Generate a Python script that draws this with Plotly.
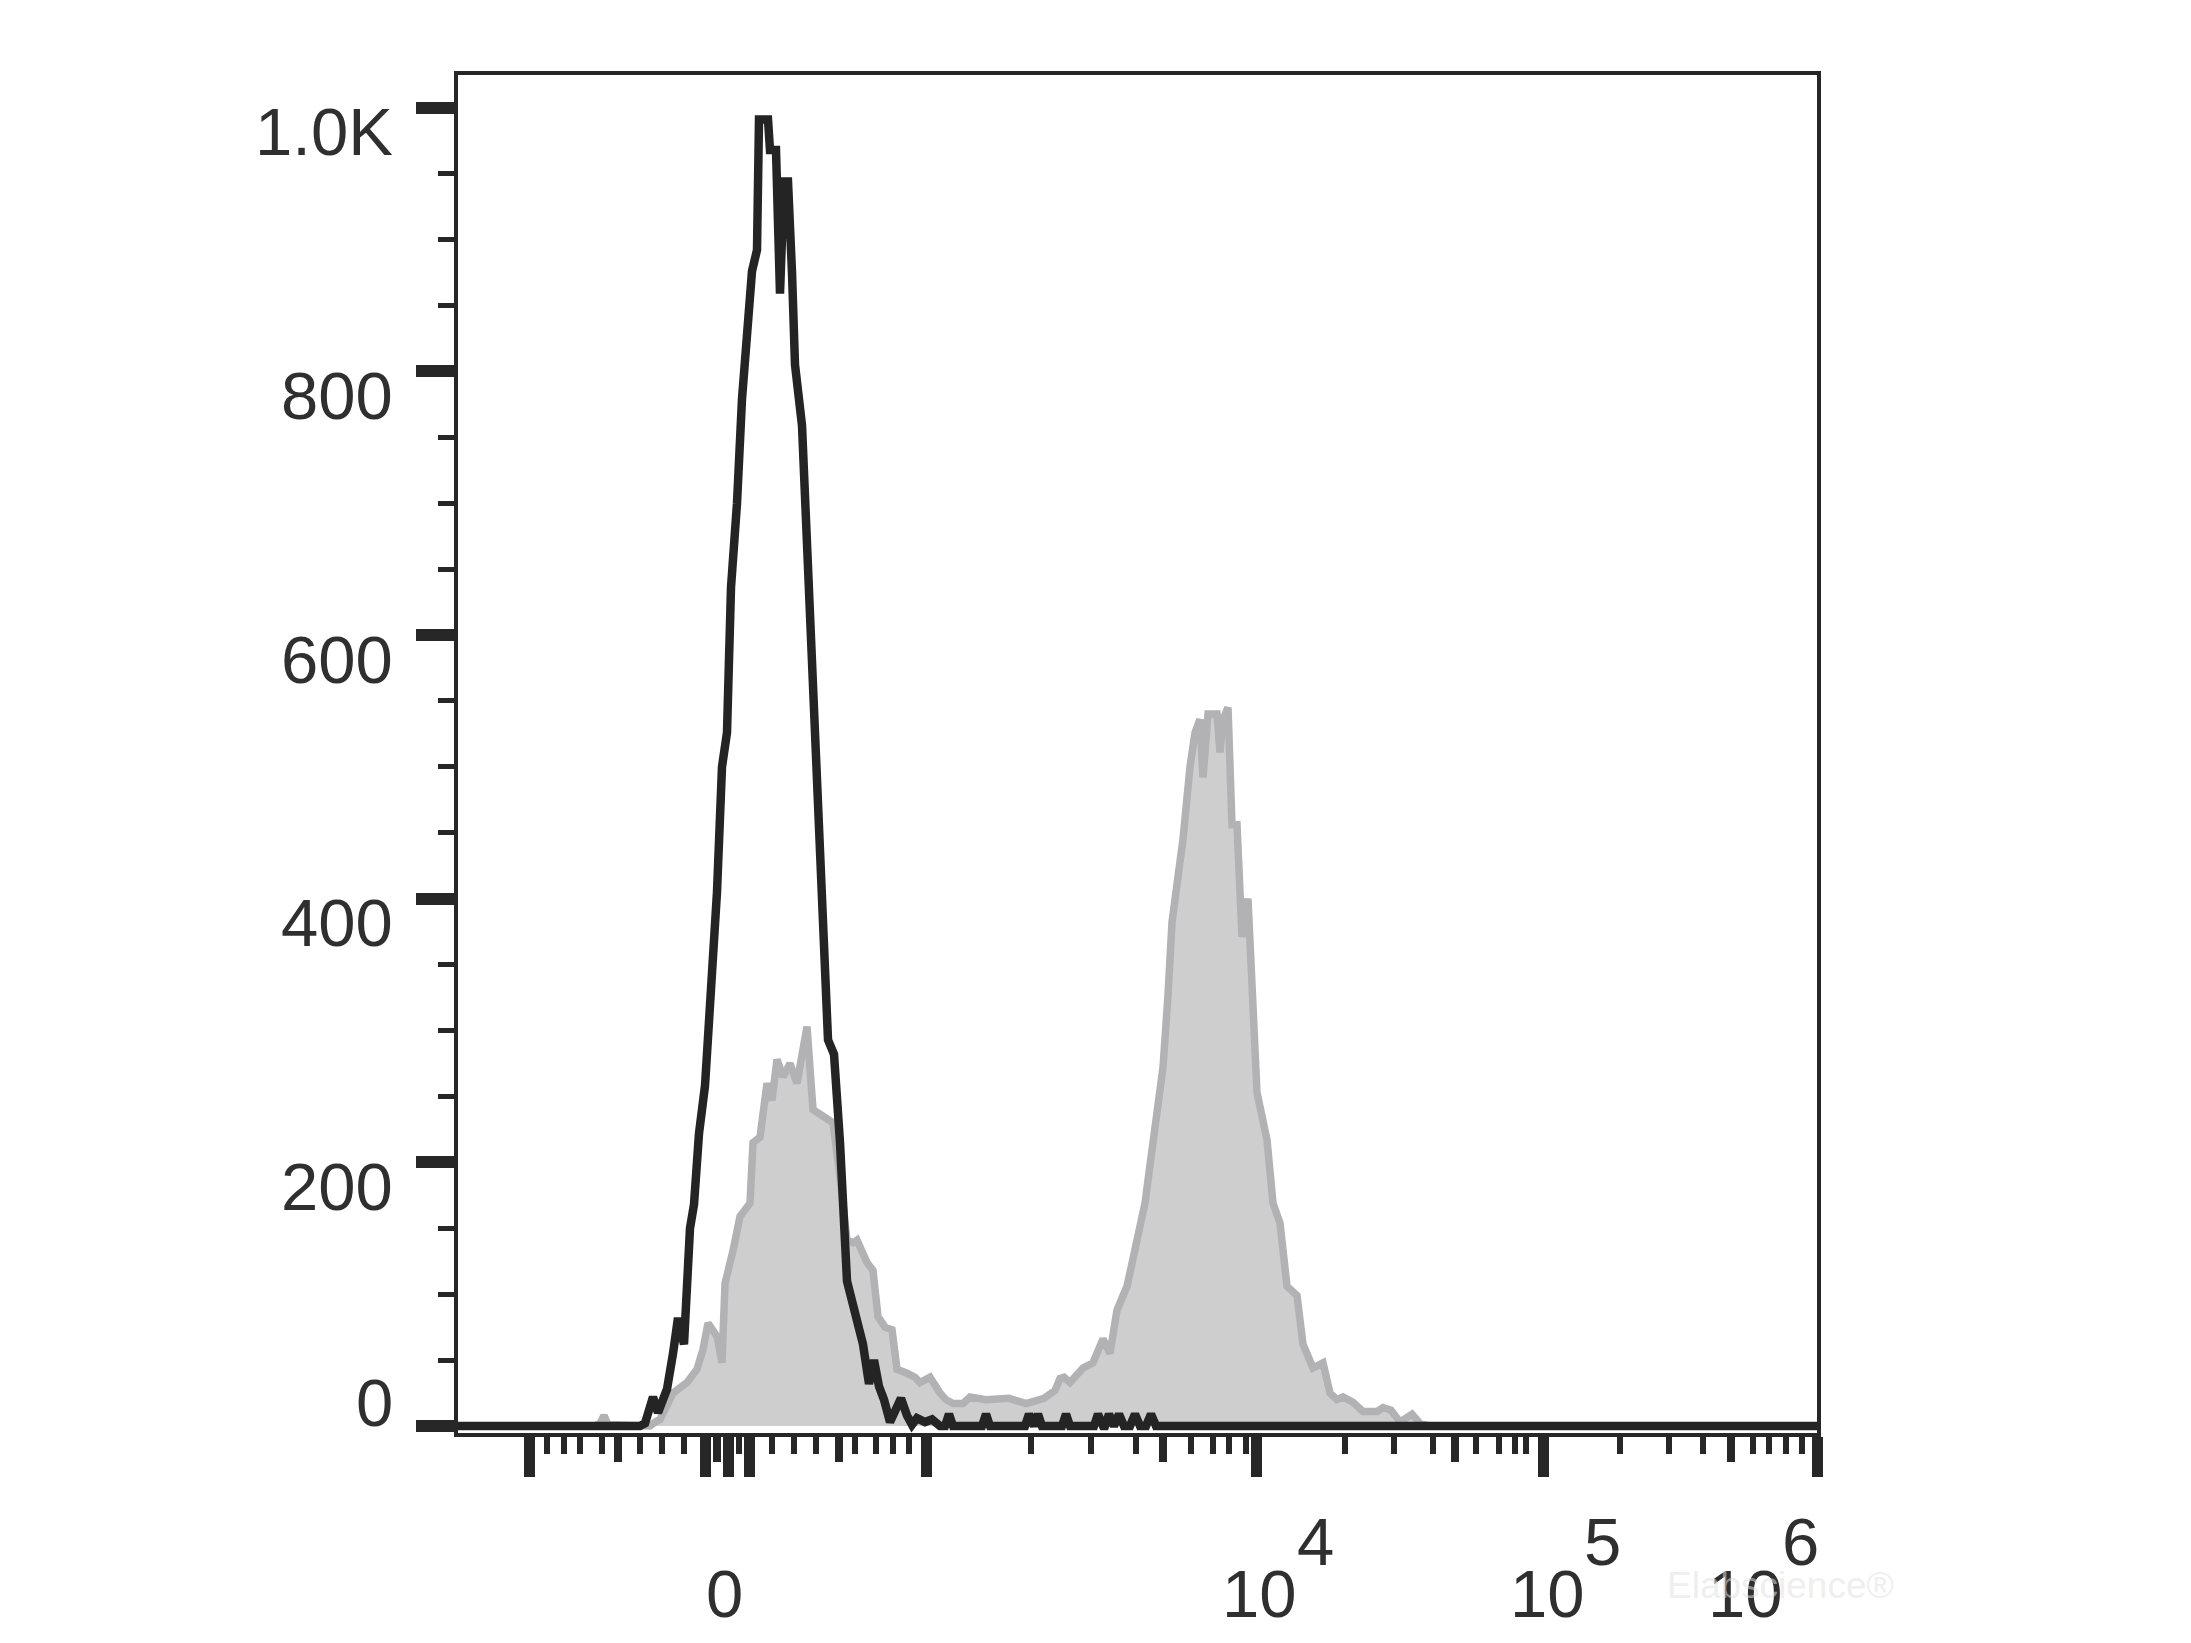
import plotly.graph_objects as go

# ---------------- data (x in display channels, y in counts) ----------------
black_x = [0, 182, 187, 192, 195, 200, 205, 209, 215, 220, 226, 232, 236, 241, 247, 254, 259,
           264, 269, 273, 279, 284, 289, 294, 299, 301, 310, 312, 318, 322, 326, 330, 334, 337,
           344, 349, 355, 362, 367, 370, 376, 382, 389, 395, 400, 405, 411, 416, 421, 426, 432,
           437, 443, 449, 454, 459, 467, 474, 482, 487, 491, 495, 524, 528, 532, 567, 571, 576,
           580, 584, 604, 608, 612, 636, 640, 645, 647, 651, 656, 661, 666, 672, 677, 682, 688,
           693, 698, 1359]
black_y = [0, 0, 2, 12, 22, 10, 18, 28, 55, 82, 62, 150, 168, 222, 258, 331, 405,
           500, 526, 636, 700, 779, 831, 876, 892, 991, 991, 968, 968, 859, 944, 944, 875, 805,
           759, 669, 539, 435, 357, 293, 282, 215, 110, 90, 76, 62, 32, 50, 30, 20, 3,
           10, 21, 8, 1, 6, 3, 5, 0, 0, 9, 0, 0, 9, 0, 0, 9, 0,
           9, 0, 0, 9, 0, 0, 9, 0, 0, 9, 0, 9, 0, 0, 9, 0, 0,
           9, 0, 0]

gray_x = [0, 137, 142, 146, 150, 192, 197, 202, 215, 229, 239, 245, 250, 259, 264, 267, 275,
          282, 292, 295, 302, 309, 314, 319, 325, 332, 339, 349, 355, 369, 375, 382, 389, 395,
          399, 409, 415, 420, 427, 434, 439, 449, 457, 462, 472, 482, 488, 495, 505, 512, 528,
          551, 568, 586, 592, 597, 602, 606, 612, 625, 635, 645, 652, 659, 669, 679, 687, 692,
          699, 705, 710, 714, 719, 725, 732, 737, 742, 745, 750, 759, 762, 765, 770, 774, 779,
          784, 790, 792, 795, 799, 809, 815, 822, 829, 839, 845, 855, 865, 872, 879, 885, 893,
          895, 905, 915, 919, 925, 933, 942, 954, 962, 972, 1359]
gray_y = [0, 0, 2, 8, 1, 0, 3, 5, 25, 33, 43, 58, 78, 68, 48, 108, 133,
          159, 169, 215, 219, 260, 247, 278, 265, 275, 260, 303, 240, 234, 230, 189, 141, 139,
          141, 124, 118, 83, 75, 73, 43, 40, 37, 33, 37, 25, 20, 17, 17, 22, 20,
          21, 17, 21, 24, 27, 36, 37, 33, 44, 48, 66, 55, 88, 106, 143, 169, 198,
          235, 272, 327, 382, 411, 445, 500, 526, 536, 492, 540, 540, 511, 536, 545, 456, 456,
          371, 400, 360, 309, 253, 217, 169, 154, 106, 99, 62, 44, 48, 25, 20, 22, 20,
          18, 11, 12, 11, 14, 12, 3, 9, 2, 0, 0]

# ---------------- axes ----------------
x_major = [71.6, 247.7, 270, 291, 468.4, 798.8, 1085.3, 1359]
x_medium = [159.9, 259, 380.6, 705.2, 997, 1272.7]
x_minor = [89.1, 105.6, 122, 144, 182.4, 204, 226.3, 281, 313.8, 336.3, 358.4, 397, 418.4,
           435.2, 451.3, 572.7, 633.4, 677.7, 732.7, 754.9, 771.3, 787.7, 887, 936.3, 974.9,
           1018.4, 1040.9, 1057, 1068.4, 1162, 1211.3, 1244.7, 1294.7, 1311.3, 1328, 1343.7]

x_label_at = [270, 798.8, 1085.3, 1359]
x_label_base = ["0", "10", "10", "10"]
x_label_exp = ["", "4", "5", "6"]
x_label_dx = [-4, 3, 4, -72]

y_major = [0, 200, 400, 600, 800, 1000]
y_labels = ["0", "200", "400", "600", "800", "1.0K"]
y_label_dy = [24, -24, -24, -24, -24, -24]
y_minor = [v for v in range(50, 1001, 50) if v % 200]

X_RANGE = [0, 1359]
Y_RANGE = [-5.3, 1024.8]

INK = "#272727"
TXT = "#2f2f2f"
FONT = "Liberation Sans, Arial, sans-serif"
FS = 67

fig = go.Figure()
fig.add_trace(go.Scatter(x=gray_x, y=gray_y, mode="lines", fill="tozeroy",
                         fillcolor="#cecece", line=dict(color="#b2b2b4", width=7.5),
                         showlegend=False, hoverinfo="skip"))
fig.add_trace(go.Scatter(x=black_x, y=black_y, mode="lines",
                         line=dict(color="#242424", width=8.5),
                         showlegend=False, hoverinfo="skip"))
# carrier for the medium-tick overlay axis
fig.add_trace(go.Scatter(x=[None], y=[None], xaxis="x2", yaxis="y", mode="lines",
                         showlegend=False, hoverinfo="skip"))

annotations = []
for v, t, dy in zip(y_major, y_labels, y_label_dy):
    annotations.append(dict(x=0, xref="paper", y=v, yref="y", text=t, showarrow=False,
                            xanchor="right", yanchor="middle", xshift=-63, yshift=dy,
                            font=dict(size=FS, family=FONT, color=TXT)))
for pos, base, ex, dx in zip(x_label_at, x_label_base, x_label_exp, x_label_dx):
    annotations.append(dict(x=pos, xref="x", y=0, yref="paper", text=base, showarrow=False,
                            xanchor="center", yanchor="middle", xshift=dx, yshift=-160,
                            font=dict(size=FS, family=FONT, color=TXT)))
    if ex:
        annotations.append(dict(x=pos, xref="x", y=0, yref="paper", text=ex, showarrow=False,
                                xanchor="left", yanchor="middle", xshift=dx + 35, yshift=-108,
                                font=dict(size=FS, family=FONT, color=TXT)))
annotations.append(dict(x=0.9728, xref="paper", y=-0.112, yref="paper", text="Elabscience®",
                        showarrow=False, xanchor="center", yanchor="middle",
                        font=dict(size=37, family=FONT, color="rgba(225,225,225,0.55)")))

fig.update_layout(
    width=2183, height=1635,
    margin=dict(l=450, r=374, t=67, b=210),
    paper_bgcolor="white", plot_bgcolor="white",
    showlegend=False,
    xaxis=dict(range=X_RANGE, tickmode="array", tickvals=x_major, ticks="outside",
               ticklen=40, tickwidth=11, tickcolor=INK, showticklabels=False,
               showline=True, linewidth=4, linecolor=INK, mirror=True,
               showgrid=False, zeroline=False,
               minor=dict(tickmode="array", tickvals=x_minor, ticks="outside",
                          ticklen=17, tickwidth=5.5, tickcolor=INK, showgrid=False)),
    xaxis2=dict(range=X_RANGE, overlaying="x", anchor="y", side="bottom",
                tickmode="array", tickvals=x_medium, ticks="outside", ticklen=28,
                tickwidth=8, tickcolor=INK, showticklabels=False, showline=False,
                showgrid=False, zeroline=False),
    yaxis=dict(range=Y_RANGE, tickmode="array", tickvals=y_major, ticks="outside",
               ticklen=38, tickwidth=12, tickcolor=INK, showticklabels=False,
               showline=True, linewidth=4, linecolor=INK, mirror=True,
               showgrid=False, zeroline=False,
               minor=dict(tickmode="array", tickvals=y_minor, ticks="outside",
                          ticklen=16, tickwidth=5, tickcolor=INK, showgrid=False)),
    annotations=annotations,
)

fig.write_html("out.html")
